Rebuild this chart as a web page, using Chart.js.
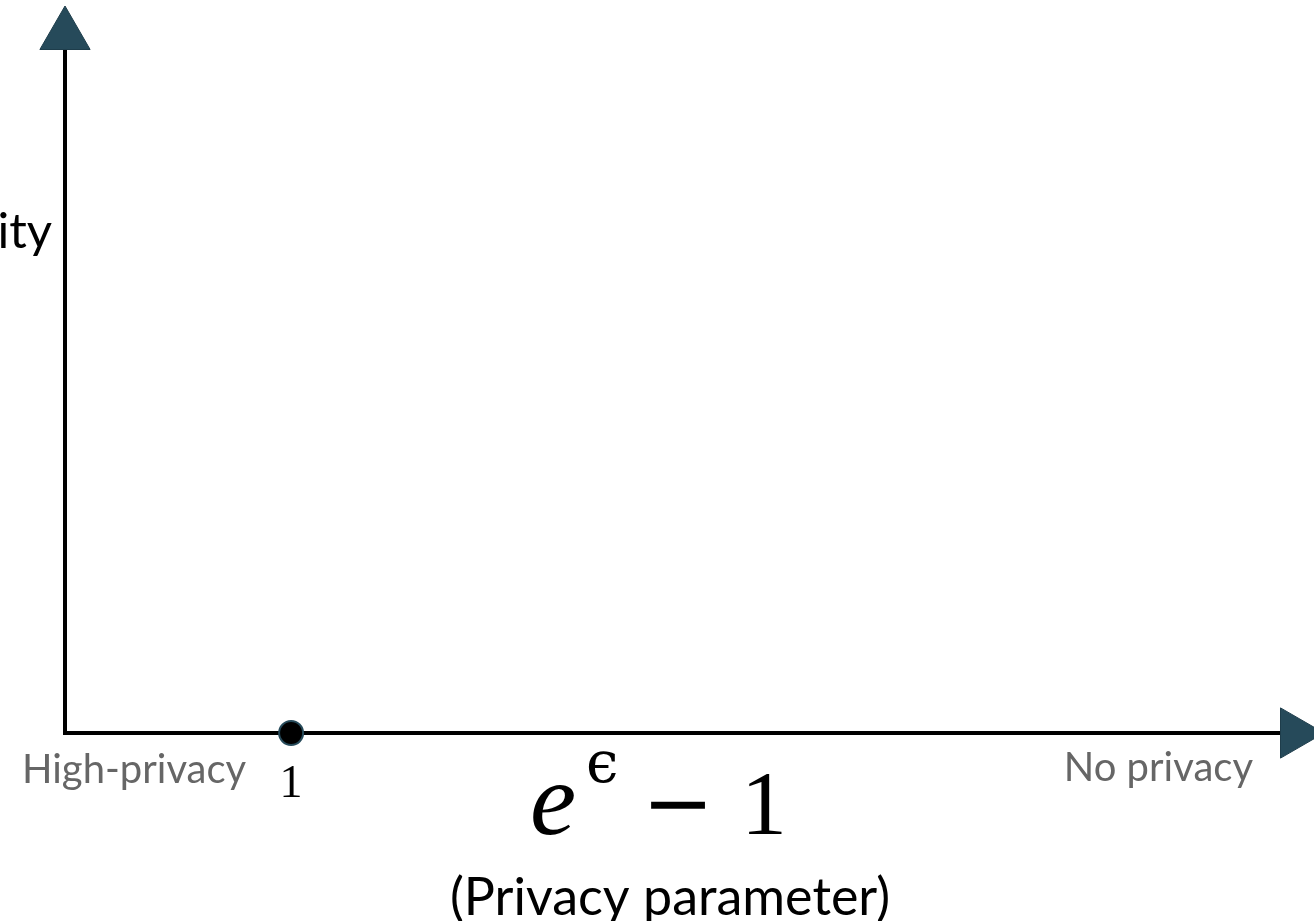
<!DOCTYPE html>
<html>
<head>
<meta charset="utf-8">
<script src="https://cdn.jsdelivr.net/npm/chart.js@4.4.1/dist/chart.umd.min.js"></script>
<style>
  html, body { margin: 0; padding: 0; background: #fff; }
  canvas { display: block; }
</style>
</head>
<body>
<canvas id="chart" width="1314" height="921"></canvas>
<script>
// axis ranges (the 1 on x lands at about a fifth of the way along)
const xRange = [0, 5.44];
const yRange = [0, 1];

// marked point on the x axis and its tick label
const markedPoints = [{ x: 1, y: 0 }];
const markedLabels = ['1'];

// labels at the two ends of the x axis
const leftEndLabel = 'High-privacy';
const rightEndLabel = 'No privacy';

const yTitle = 'Utility';
const xSubtitle = '(Privacy parameter)';

const teal = '#264a5a';
const gray = '#666666';
const sans = 'Lato, "Open Sans", sans-serif';
const serif = '"Liberation Serif", "DejaVu Serif", serif';
const mathSerif = '"DejaVu Serif", serif';

// axis lines drawn under the datasets, text drawn on top
const axesPlugin = {
  id: 'axes',
  beforeDatasetsDraw(chart) {
    const { ctx, scales: { x, y } } = chart;
    const x0 = x.getPixelForValue(xRange[0]);
    const y0 = y.getPixelForValue(yRange[0]);
    ctx.save();
    ctx.strokeStyle = '#000';
    ctx.lineWidth = 4;
    ctx.beginPath();
    ctx.moveTo(x0, y.getPixelForValue(yRange[1]));
    ctx.lineTo(x0, y0);
    ctx.lineTo(x.getPixelForValue(xRange[1]), y0);
    ctx.stroke();
    ctx.restore();
  },
  afterDraw(chart) {
    const { ctx, scales: { x, y }, chartArea } = chart;
    const y0 = y.getPixelForValue(0);
    ctx.save();
    ctx.textBaseline = 'alphabetic';

    // y title, cut off by the left edge like the original
    ctx.fillStyle = '#000';
    ctx.font = '49px ' + sans;
    ctx.textAlign = 'right';
    ctx.fillText(yTitle, 52, 248);

    // end labels
    ctx.fillStyle = gray;
    ctx.font = '40px ' + sans;
    ctx.textAlign = 'left';
    ctx.fillText(leftEndLabel, 22, y0 + 50);
    ctx.textAlign = 'right';
    ctx.fillText(rightEndLabel, 1253, y0 + 48);

    // tick labels under marked points
    ctx.fillStyle = '#000';
    ctx.font = '46px ' + serif;
    ctx.textAlign = 'center';
    markedPoints.forEach((p, i) => {
      ctx.fillText(markedLabels[i], x.getPixelForValue(p.x), y0 + 64);
    });

    // x title: e^eps - 1
    const cx = (chartArea.left + chartArea.right) / 2;
    const base = y0 + 101;
    ctx.textAlign = 'left';
    ctx.font = 'italic 104px ' + serif;
    ctx.fillText('e', cx - 150, base);
    ctx.font = '58px ' + mathSerif;
    ctx.fillText('\u03f5', cx - 94, base - 52);
    ctx.font = '86px ' + mathSerif;
    ctx.fillText('\u2212', cx - 38, base - 2);
    ctx.font = '92px ' + serif;
    ctx.fillText('1', cx + 61, base);

    // subtitle
    ctx.font = '52px ' + sans;
    ctx.textAlign = 'center';
    ctx.fillText(xSubtitle, 670, y0 + 182);
    ctx.restore();
  }
};

new Chart(document.getElementById('chart'), {
  type: 'scatter',
  data: {
    datasets: [
      {
        label: 'marked',
        data: markedPoints,
        pointStyle: 'circle',
        pointRadius: 12,
        pointBackgroundColor: '#000',
        pointBorderColor: teal,
        pointBorderWidth: 2,
        clip: false
      },
      {
        label: 'y arrow',
        data: [{ x: xRange[0], y: yRange[1] }],
        pointStyle: 'triangle',
        pointRadius: 29,
        rotation: 0,
        pointBackgroundColor: teal,
        pointBorderColor: '#1e3d4b',
        pointBorderWidth: 1,
        clip: false
      },
      {
        label: 'x arrow',
        data: [{ x: xRange[1], y: yRange[0] }],
        pointStyle: 'triangle',
        pointRadius: 29,
        rotation: 90,
        pointBackgroundColor: teal,
        pointBorderColor: '#1e3d4b',
        pointBorderWidth: 1,
        clip: false
      }
    ]
  },
  options: {
    responsive: false,
    animation: false,
    devicePixelRatio: 1,
    layout: {
      autoPadding: false,
      padding: { left: 65, right: 19, top: 35, bottom: 188 }
    },
    scales: {
      x: { type: 'linear', min: xRange[0], max: xRange[1], display: false },
      y: { type: 'linear', min: yRange[0], max: yRange[1], display: false }
    },
    plugins: {
      legend: { display: false },
      tooltip: { enabled: false }
    }
  },
  plugins: [axesPlugin]
});
</script>
</body>
</html>
